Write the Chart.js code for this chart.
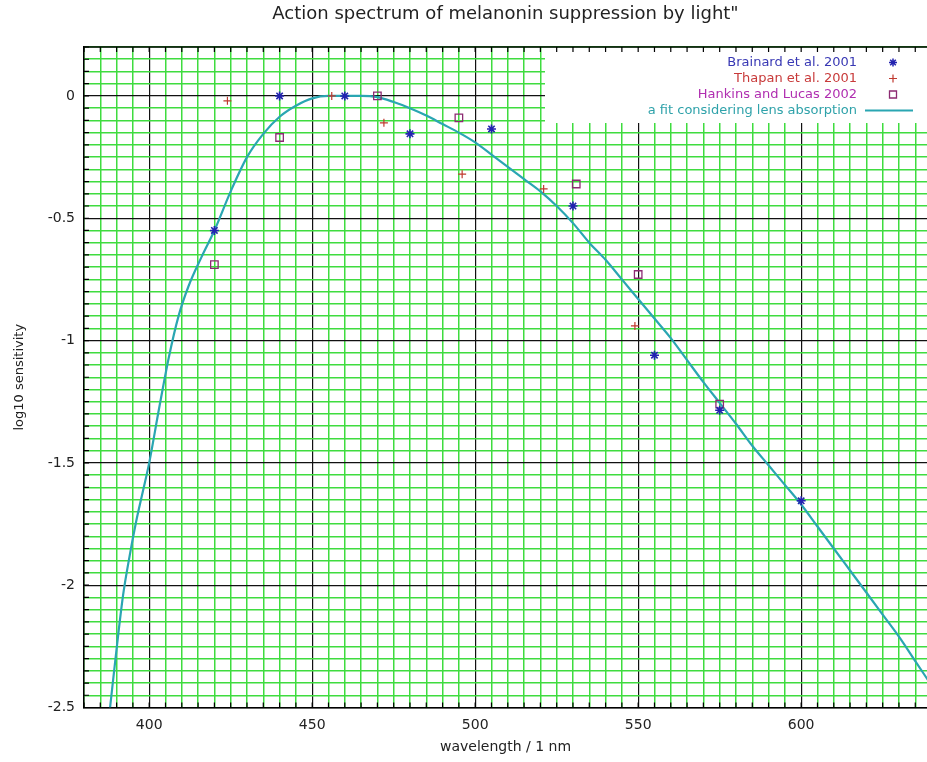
<!DOCTYPE html>
<html><head><meta charset="utf-8">
<script src="https://cdn.jsdelivr.net/npm/chart.js"></script>
<style>html,body{margin:0;padding:0;background:#fff;}canvas{display:block;}</style>
</head><body>
<canvas id="c" width="927" height="762"></canvas>
<script>
// ---------- data ----------
const titleText = 'Action spectrum of melanonin suppression by light"';
const xAxisTitle = 'wavelength / 1 nm';
const yAxisTitle = 'log10 sensitivity';
const xTickLabels = [400, 450, 500, 550, 600];
const yTickLabels = [0, -0.5, -1, -1.5, -2, -2.5];
const seriesNames = ['Brainard et al. 2001', 'Thapan et al. 2001', 'Hankins and Lucas 2002', 'a fit considering lens absorption'];

const brainardX = [420, 440, 460, 480, 505, 530, 555, 575, 600];
const brainardY = [-0.55, 0, 0, -0.155, -0.135, -0.45, -1.06, -1.285, -1.655];
const thapanX = [424, 456, 472, 496, 521, 549];
const thapanY = [-0.02, 0, -0.11, -0.32, -0.38, -0.94];
const hankinsX = [420, 440, 470, 495, 531, 550, 575];
const hankinsY = [-0.69, -0.17, 0, -0.09, -0.36, -0.73, -1.26];
const fitX = [388, 390, 392, 394, 396, 398, 400, 403, 406, 409, 412, 416, 420, 425, 430, 435, 440, 445, 450, 455, 460, 465, 470, 475, 480, 485, 490, 495, 500, 505, 510, 515, 520, 525, 530, 535, 540, 545, 550, 555, 560, 565, 570, 575, 580, 585, 590, 595, 600, 605, 610, 615, 620, 625, 630, 635, 640];
const fitY = [-2.5, -2.26, -2.04, -1.88, -1.74, -1.62, -1.5, -1.28, -1.07, -0.9, -0.78, -0.66, -0.55, -0.39, -0.25, -0.155, -0.085, -0.04, -0.01, 0, 0, 0, -0.005, -0.025, -0.05, -0.08, -0.115, -0.15, -0.19, -0.24, -0.29, -0.34, -0.39, -0.45, -0.52, -0.6, -0.67, -0.75, -0.83, -0.91, -0.99, -1.08, -1.17, -1.255, -1.34, -1.43, -1.51, -1.59, -1.67, -1.76, -1.85, -1.94, -2.03, -2.12, -2.21, -2.31, -2.41];

const xMin = 380, xMax = 638.6, xStep = 5;
const yMin = -2.5, yMax = 0.2, yStepsPerUnit = 20;

// ---------- styles ----------
const FONT = '"DejaVu Sans", "Liberation Sans", Arial, sans-serif';
const seriesColors = ['#2323b0', '#c0392f', '#8c2a72', '#2aa6b2'];
const legendTextColors = ['#3838b4', '#c83a3a', '#b02eb0', '#2fa2aa'];
const minorGrid = '#3fdc3f';
const majorGrid = '#111111';

const zip = (xs, ys) => xs.map((x, i) => ({x, y: ys[i]}));

Chart.defaults.font.family = FONT;

const bgPlugin = {
  id: 'bg',
  beforeDraw(chart) {
    const c = chart.ctx; c.save(); c.fillStyle = '#fff'; c.fillRect(0, 0, chart.width, chart.height); c.restore();
  }
};

const framePlugin = {
  id: 'frame',
  beforeDatasetsDraw(chart) {
    const {ctx, chartArea: a, scales: {x, y}} = chart;
    ctx.save();
    const boxL = a.right - 382, boxT = a.top + 1, boxB = a.top + 76;
    ctx.fillStyle = '#fff';
    ctx.fillRect(boxL, boxT, a.right - boxL, boxB - boxT);
    ctx.strokeStyle = '#000';
    ctx.lineWidth = 1.5;
    ctx.beginPath(); ctx.moveTo(a.left, a.top); ctx.lineTo(a.right, a.top); ctx.stroke();
    ctx.lineWidth = 1.2;
    ctx.beginPath();
    x.ticks.forEach(t => {
      const px = x.getPixelForValue(t.value);
      ctx.moveTo(px, a.top); ctx.lineTo(px, a.top + 5);
      ctx.moveTo(px, a.bottom); ctx.lineTo(px, a.bottom - 5);
    });
    y.ticks.forEach(t => {
      const py = y.getPixelForValue(t.value);
      ctx.moveTo(a.left, py); ctx.lineTo(a.left + 5, py);
    });
    ctx.stroke();
    ctx.restore();
  },
  afterDatasetsDraw(chart) {
    const {ctx, chartArea: a} = chart;
    ctx.save();
    ctx.font = '13px ' + FONT;
    ctx.textAlign = 'right';
    ctx.textBaseline = 'middle';
    const textR = a.right - 70, symX = a.right - 34;
    chart.data.datasets.forEach((ds, i) => {
      const yy = a.top + 15.5 + i * 16;
      ctx.fillStyle = legendTextColors[i];
      ctx.fillText(ds.label, textR, yy);
      ctx.strokeStyle = seriesColors[i];
      ctx.beginPath();
      if (i === 0) {
        ctx.lineWidth = 1.5; const r = 4, d = r * Math.SQRT1_2;
        ctx.moveTo(symX - r, yy); ctx.lineTo(symX + r, yy);
        ctx.moveTo(symX, yy - r); ctx.lineTo(symX, yy + r);
        ctx.moveTo(symX - d, yy - d); ctx.lineTo(symX + d, yy + d);
        ctx.moveTo(symX - d, yy + d); ctx.lineTo(symX + d, yy - d);
      } else if (i === 1) {
        ctx.lineWidth = 1.2; const r = 4;
        ctx.moveTo(symX - r, yy); ctx.lineTo(symX + r, yy);
        ctx.moveTo(symX, yy - r); ctx.lineTo(symX, yy + r);
      } else if (i === 2) {
        ctx.lineWidth = 1.3; ctx.rect(symX - 3.5, yy - 3.5, 7, 7);
      } else {
        ctx.lineWidth = 2.2; ctx.moveTo(a.right - 62, yy); ctx.lineTo(a.right - 14, yy);
      }
      ctx.stroke();
    });
    ctx.restore();
  }
};

new Chart(document.getElementById('c'), {
  type: 'scatter',
  data: {
    datasets: [
      {label: seriesNames[0], data: zip(brainardX, brainardY), pointStyle: 'star', pointRadius: 4.5, borderColor: seriesColors[0], backgroundColor: seriesColors[0], pointBorderWidth: 1.6, showLine: false},
      {label: seriesNames[1], data: zip(thapanX, thapanY), pointStyle: 'cross', pointRadius: 4, borderColor: seriesColors[1], backgroundColor: seriesColors[1], pointBorderWidth: 1.2, showLine: false},
      {label: seriesNames[2], data: zip(hankinsX, hankinsY), pointStyle: 'rect', pointRadius: 5.3, borderColor: seriesColors[2], backgroundColor: 'rgba(0,0,0,0)', pointBorderWidth: 1.3, showLine: false},
      {label: seriesNames[3], data: zip(fitX, fitY), showLine: true, pointRadius: 0, borderColor: seriesColors[3], borderWidth: 2.2, cubicInterpolationMode: 'monotone', fill: false}
    ]
  },
  options: {
    responsive: false,
    animation: false,
    devicePixelRatio: 1,
    layout: {padding: 0, autoPadding: false},
    plugins: {
      legend: {display: false},
      tooltip: {enabled: false},
      title: {
        display: true, text: titleText, fullSize: false, color: '#222',
        font: {family: FONT, size: 18, weight: 'normal', lineHeight: 1.2},
        padding: {top: 4, bottom: 21.4}
      }
    },
    scales: {
      x: {
        type: 'linear', min: xMin, max: xMax,
        afterBuildTicks: s => {
          const t = [];
          for (let v = xMin; v <= xMax; v += xStep) t.push({value: v});
          s.ticks = t;
        },
        afterFit: s => { s.height = 54.5; s.paddingLeft = 0; s.paddingRight = 0; },
        ticks: {
          autoSkip: false, maxRotation: 0, minRotation: 0, padding: 9, color: '#222',
          font: {family: FONT, size: 14},
          callback: v => xTickLabels.includes(v) ? String(v) : ''
        },
        grid: {
          drawTicks: false,
          color: c => c.tick && xTickLabels.includes(c.tick.value) ? majorGrid : (c.tick && c.tick.value > xMax - 1 ? 'rgba(0,0,0,0)' : minorGrid),
          lineWidth: c => c.tick && xTickLabels.includes(c.tick.value) ? 1.2 : 1.5
        },
        border: {display: true, color: '#000', width: 1.5},
        title: {display: true, text: xAxisTitle, color: '#222', font: {family: FONT, size: 14}, padding: {top: 0, bottom: 6}}
      },
      y: {
        type: 'linear', min: yMin, max: yMax,
        afterBuildTicks: s => {
          const t = [];
          for (let k = Math.round(yMin * yStepsPerUnit); k <= Math.round(yMax * yStepsPerUnit); k++) t.push({value: k / yStepsPerUnit});
          s.ticks = t;
        },
        afterFit: s => { s.width = 84; s.paddingTop = 0; },
        ticks: {
          autoSkip: false, padding: 9, color: '#222',
          font: {family: FONT, size: 14},
          callback: v => yTickLabels.includes(v) ? String(v) : ''
        },
        grid: {
          drawTicks: false,
          color: c => c.tick && yTickLabels.includes(c.tick.value) ? majorGrid : minorGrid,
          lineWidth: c => c.tick && yTickLabels.includes(c.tick.value) ? 1.2 : 1.5
        },
        border: {display: true, color: '#000', width: 1.5},
        title: {display: true, text: yAxisTitle, color: '#222', font: {family: FONT, size: 13}, padding: {top: 12, bottom: 0}}
      }
    }
  },
  plugins: [bgPlugin, framePlugin]
});
</script>
</body></html>
